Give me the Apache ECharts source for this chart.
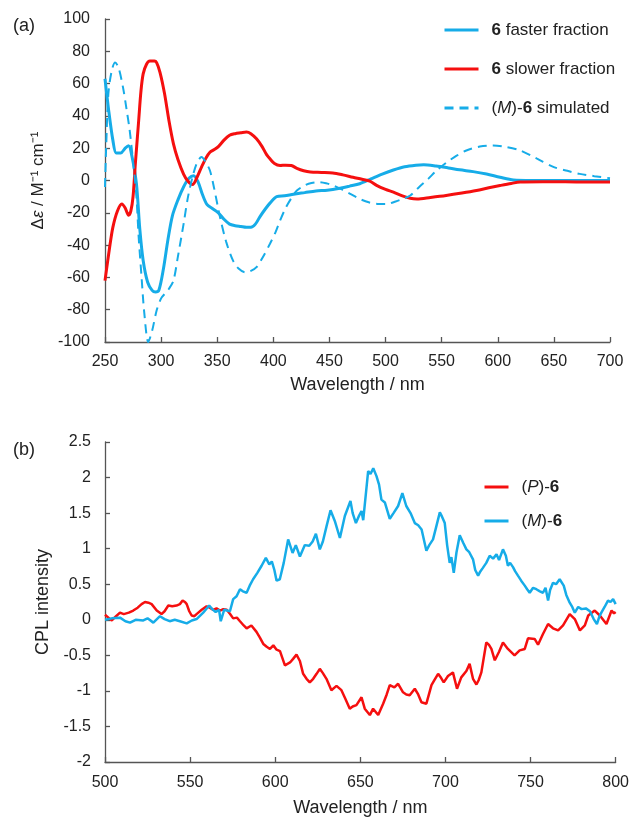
<!DOCTYPE html>
<html>
<head>
<meta charset="utf-8">
<script src="https://cdn.jsdelivr.net/npm/echarts@6/dist/echarts.min.js"></script>
<style>
  html, body { margin: 0; padding: 0; background: #fff; }
  #chart { width: 632px; height: 818px; }
</style>
</head>
<body>
<div id="chart"></div>
<script>
// (a) CD spectra
var fasterWl = [250,253,257,260,264,268,271,274,278,281,284,288,292,295,298,302,306,310,315,320,325,329,333,337,341,346,351,356,361,366,371,376,380,384,388,393,397,403,410,418,428,438,448,458,468,477,487,497,507,517,527,534,545,556,566,578,590,602,614,630,650,675,700];
var fasterVal = [63,45,25,17,17,20,21.5,15,-2,-30,-49.5,-63,-68,-69,-68,-55,-37,-22,-12,-4,1.5,3,-1,-9,-15,-17.5,-20,-24,-27,-28,-28.5,-29,-29,-27,-22.5,-17.5,-14,-10,-9.5,-8.5,-7.5,-6.5,-6,-5,-3.5,-2,1,4,6.5,8.5,9.5,9.8,9,7.8,6.6,5.5,4,2,0.3,0,0,0,0];

var slowerWl = [250,254,257,261,265,268,271,273,275,277,280,282,284,287,290,294,296,299,303,307,311,315,320,324,328,332,336,340,343.5,347,351,356,361,366,371,376,380,385,390,394,397,401,406,411,416,421,427,433,443,453,462,471,479,486,492,500,507,515,522,528,540,554,568,581,592,602,612,620,640,660,680,700];
var slowerVal = [-62,-42,-29,-19,-14.5,-17,-21.5,-19,-10,10,37,55,66,72,74,74,73,67,54,37,22.7,13,4,-0.5,-2.5,2,8.3,14,17.5,19,21,25,28,29,29.5,30,29,25.8,21,16,13.4,10.5,9.3,9.5,9.3,7.5,6,5.2,5,4.7,3.5,2,0.8,-0.4,-3,-5.5,-7.2,-9.5,-11,-11.4,-10.5,-9.3,-7.8,-6.2,-4.5,-3.1,-1.8,-1,-0.8,-0.8,-1,-1];

var simWl = [250,251,253,256,259,262,266,269,272,275,278,280,282.6,285,288.6,292,296,300,303.5,307,311,315,320,324,328.7,332,336,340,343.5,347,352.5,358,364,369,375,380,385,391,397,402,406,411,416,421,428,434,440,447,453.5,461,469,477,485,493,501,509,516,522,530,538,545.5,554,563,572,584,596,608,620,635,650,662,673,686,700];
var simVal = [-4,20,53.7,68,73,70,57.8,45,31,12,-10,-35,-60,-82,-100,-93,-80.5,-73,-70,-67,-62,-47,-27,-10,4,11,14.5,11,6.2,-4,-22.7,-38,-49.5,-54.5,-56.8,-56,-53.7,-47,-39.2,-32,-24.8,-17,-11,-6.2,-3,-1.5,-1,-1.7,-3.1,-5.5,-8.5,-11.4,-13.5,-14.5,-14.5,-13,-11.2,-9.3,-4,1,6.2,11,15.2,18.6,21,21.7,20.7,18.6,13.5,8.3,6,4.1,2.7,1.4];

// (b) CPL spectra
var pWl = [500,502,504,506.5,508.8,511,514,516.6,519.2,521.5,523.5,525.5,527.4,530.4,533.2,535,537.2,539.5,542,544,545.6,547,548,549.5,550.9,552.5,553.8,556.8,559.7,561.5,563.6,565.5,567.6,569.5,571.5,573.5,575.3,577.5,579.3,581.5,583.2,586,589,591,593,595,596.9,598.9,600.8,602.8,605.7,608.7,610.5,612.5,614.5,616.4,618.4,620.3,622.3,624.3,626.2,628,630.1,633,636,638.9,641,643.8,645.5,647.7,650.7,652.6,655.6,657.5,660.5,663.4,665.5,667.3,670,672.2,675.1,677,679,682,684,685.9,688.8,691.8,693.5,695.7,697.5,699,701.5,704.4,706.8,709.3,712.3,714.2,716.2,718.2,719.5,721.1,724,725.5,727,729,731.5,733.8,736.7,740.6,743.6,746.6,748.5,752.4,754.4,757.3,760.3,763.2,766.2,769.1,773,776,779,781.9,783.9,787.7,790.7,794.6,797.6,799,800];
var pVal = [0.07,0.03,-0.01,0.05,0.1,0.08,0.1,0.13,0.17,0.22,0.25,0.24,0.22,0.13,0.08,0.12,0.2,0.19,0.2,0.22,0.27,0.25,0.22,0.12,0.06,0.05,0.08,0.14,0.19,0.17,0.14,0.16,0.13,0.15,0.14,0.08,0.02,0.03,-0.02,-0.08,-0.12,-0.08,-0.17,-0.25,-0.34,-0.38,-0.41,-0.36,-0.42,-0.44,-0.64,-0.6,-0.55,-0.49,-0.58,-0.76,-0.83,-0.88,-0.83,-0.76,-0.69,-0.75,-0.83,-0.99,-0.93,-0.99,-1.1,-1.25,-1.22,-1.2,-1.09,-1.25,-1.34,-1.25,-1.34,-1.18,-1.05,-0.92,-0.95,-0.9,-1.02,-1.05,-1.06,-0.97,-1.05,-1.16,-1.18,-0.92,-0.85,-0.76,-0.82,-0.88,-0.79,-0.74,-0.97,-0.81,-0.72,-0.62,-0.83,-0.91,-0.85,-0.74,-0.32,-0.35,-0.41,-0.57,-0.45,-0.32,-0.41,-0.5,-0.43,-0.41,-0.26,-0.27,-0.35,-0.2,-0.06,-0.12,-0.15,-0.08,0.08,0.01,-0.15,-0.08,0.06,0.13,0.06,-0.06,0.13,0.09,0.11];

var mWl = [500,504,508.8,512,514.7,518,522.5,525,528.4,532.3,535,538,541,544,548,551,553.8,557.7,561.2,563,565,567,568,570,573.4,575.3,577.3,579.3,581,583.2,585,587,589.5,592,594.5,596.5,598,599.5,600.8,602.7,605,607.6,610.2,612.1,614.5,617.4,620,622,623.9,626.2,628,630.1,632.5,635,638,640.9,644.2,645.5,647.4,649,650.7,651.7,654.6,656,657.6,659.5,661,662.4,664.4,667.3,669.5,672.2,674.7,677,679.5,682,684,686,688.8,690.5,692.7,694.5,696.7,698,699.6,701,702.5,703.5,704.9,706.5,708.4,710.5,712.3,714,716.2,717.5,719.2,720.5,722,724,726,728,730,731.5,733.8,735.5,736.7,738,739.7,741,742.6,744.5,746.6,748,749.5,751.5,753.4,755.5,757.3,758.8,760.3,761.5,763.2,765,767.1,769.5,771,773,774.5,776,778,780,782.5,784.9,787.1,789,790.5,791.6,793.5,795.5,797,798.5,800];
var mVal = [0,0.02,0.03,-0.02,-0.04,0,-0.01,0.02,-0.04,0.05,0.01,-0.02,0,-0.02,-0.05,-0.01,0.01,0.1,0.2,0.15,0.11,0.14,-0.02,0.14,0.12,0.29,0.33,0.43,0.4,0.38,0.48,0.57,0.66,0.76,0.87,0.78,0.82,0.7,0.55,0.57,0.8,1.13,0.94,1.05,0.89,1.05,1.04,1.1,1.21,0.99,1.1,1.31,1.54,1.39,1.15,1.46,1.67,1.5,1.36,1.45,1.53,1.4,2.09,2.05,2.13,2.02,1.9,1.69,1.65,1.42,1.5,1.6,1.78,1.6,1.5,1.36,1.33,1.27,0.97,1.05,1.13,1.3,1.51,1.45,1.36,1.05,0.8,0.88,0.66,0.95,1.19,1.08,0.99,0.95,0.85,0.7,0.62,0.68,0.73,0.8,0.9,0.86,0.92,0.84,0.99,0.9,0.76,0.8,0.74,0.68,0.62,0.55,0.48,0.43,0.38,0.45,0.43,0.4,0.38,0.45,0.27,0.42,0.52,0.5,0.57,0.48,0.35,0.24,0.18,0.1,0.18,0.15,0.16,0.12,0.01,-0.06,0.05,0.1,0.18,0.27,0.25,0.29,0.22];

var blue = '#16ACE8';
var red = '#F50F0F';
var txt = '#222';
var axisCol = '#555';
var font = "'Liberation Sans', Arial, sans-serif";

function pairs(xs, ys) {
  var out = [];
  for (var i = 0; i < xs.length; i++) out.push([xs[i], ys[i]]);
  return out;
}

var legendNames = {
  'faster': '{b|6} faster fraction',
  'slower': '{b|6} slower fraction',
  'sim': '({i|M})-{b|6} simulated',
  'P': '({i|P})-{b|6}',
  'M': '({i|M})-{b|6}'
};
var rich = {
  b: { fontWeight: 'bold', fontSize: 17, color: txt, fontFamily: font },
  i: { fontStyle: 'italic', fontSize: 17, color: txt, fontFamily: font }
};

function axisBase() {
  return {
    axisLine: { show: true, onZero: false, lineStyle: { color: axisCol, width: 1.3 } },
    axisTick: { show: true, inside: true, length: 5, lineStyle: { color: axisCol, width: 1.3 } },
    splitLine: { show: false },
    axisLabel: { color: txt, fontSize: 16, fontFamily: font },
    nameTextStyle: { color: txt, fontSize: 18, fontFamily: font }
  };
}

var x1 = Object.assign(axisBase(), {
  type: 'value', gridIndex: 0, min: 250, max: 700, interval: 50,
  name: 'Wavelength / nm', nameLocation: 'middle', nameGap: 34
});
x1.axisLabel.margin = 12;
var x2 = Object.assign(axisBase(), {
  type: 'value', gridIndex: 1, min: 500, max: 800, interval: 50,
  name: 'Wavelength / nm', nameLocation: 'middle', nameGap: 37
});
x2.axisLabel.margin = 13;
var y1 = Object.assign(axisBase(), {
  type: 'value', gridIndex: 0, min: -100, max: 100, interval: 20,
  name: 'Δ{i|ε} / M⁻¹ cm⁻¹', nameLocation: 'middle', nameRotate: 90, nameGap: 46
});
y1.axisLabel.margin = 15;
y1.nameTextStyle.fontSize = 17;
y1.nameTextStyle.rich = { i: { fontStyle: 'italic', fontSize: 17, color: txt, fontFamily: font } };
var y2 = Object.assign(axisBase(), {
  type: 'value', gridIndex: 1, min: -2, max: 2.5, interval: 0.5,
  name: 'CPL intensity', nameLocation: 'middle', nameRotate: 90, nameGap: 46
});
y2.axisLabel.margin = 14;

var chart = echarts.init(document.getElementById('chart'));
chart.setOption({
  animation: false,
  backgroundColor: '#fff',
  textStyle: { fontFamily: font },
  title: [
    { text: '(a)', left: 8, top: 12, textStyle: { color: txt, fontSize: 18, fontWeight: 'normal', fontFamily: font } },
    { text: '(b)', left: 8, top: 436, textStyle: { color: txt, fontSize: 18, fontWeight: 'normal', fontFamily: font } }
  ],
  grid: [
    { left: 105, top: 19, width: 505, height: 323 },
    { left: 105, top: 442, width: 511, height: 321 }
  ],
  xAxis: [x1, x2],
  yAxis: [y1, y2],
  legend: [
    {
      data: ['faster', 'slower', 'sim'],
      orient: 'vertical', left: 438, top: 15,
      itemWidth: 34, itemHeight: 20, itemGap: 19,
      itemStyle: { opacity: 0 },
      lineStyle: { width: 3 },
      formatter: function (n) { return legendNames[n]; },
      textStyle: { color: txt, fontSize: 17, lineHeight: 20, fontFamily: font, padding: [0, 0, 0, 8], rich: rich }
    },
    {
      data: ['P', 'M'],
      orient: 'vertical', left: 478, top: 472,
      itemWidth: 24, itemHeight: 20, itemGap: 14,
      itemStyle: { opacity: 0 },
      lineStyle: { width: 3 },
      formatter: function (n) { return legendNames[n]; },
      textStyle: { color: txt, fontSize: 17, lineHeight: 20, fontFamily: font, padding: [0, 0, 0, 8], rich: rich }
    }
  ],
  series: [
    {
      name: 'faster', type: 'line', xAxisIndex: 0, yAxisIndex: 0,
      data: pairs(fasterWl, fasterVal), smooth: 0.3, symbol: 'none',
      lineStyle: { color: blue, width: 3 }, itemStyle: { color: blue }
    },
    {
      name: 'slower', type: 'line', xAxisIndex: 0, yAxisIndex: 0,
      data: pairs(slowerWl, slowerVal), smooth: 0.3, symbol: 'none',
      lineStyle: { color: red, width: 3 }, itemStyle: { color: red }
    },
    {
      name: 'sim', type: 'line', xAxisIndex: 0, yAxisIndex: 0,
      data: pairs(simWl, simVal), smooth: 0.3, symbol: 'none',
      lineStyle: { color: blue, width: 2, type: [9, 6] }, itemStyle: { color: blue }
    },
    {
      name: 'P', type: 'line', xAxisIndex: 1, yAxisIndex: 1,
      data: pairs(pWl, pVal), symbol: 'none',
      lineStyle: { color: red, width: 2.5 }, itemStyle: { color: red }
    },
    {
      name: 'M', type: 'line', xAxisIndex: 1, yAxisIndex: 1,
      data: pairs(mWl, mVal), symbol: 'none',
      lineStyle: { color: blue, width: 2.5 }, itemStyle: { color: blue }
    }
  ]
});
</script>
</body>
</html>
